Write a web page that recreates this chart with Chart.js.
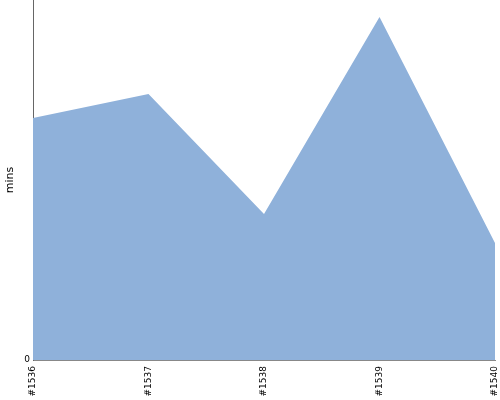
<!DOCTYPE html>
<html>
<head>
<meta charset="utf-8">
<script src="https://cdn.jsdelivr.net/npm/chart.js@4"></script>
<style>
  html, body { margin: 0; padding: 0; background: #fff; }
  canvas { display: block; }
</style>
</head>
<body>
<canvas id="chart" width="500" height="400"></canvas>
<script>
// --- DATA ---
const builds = ['#1536', '#1537', '#1538', '#1539', '#1540'];
const minutes = [24.2, 26.6, 14.6, 34.3, 11.7];
const yTicks = [0];

const ctx = document.getElementById('chart').getContext('2d');
new Chart(ctx, {
    type: 'line',
    data: {
        labels: builds,
        datasets: [{
            data: minutes,
            fill: 'origin',
            backgroundColor: '#8fb1da',
            borderWidth: 0,
            pointRadius: 0,
            tension: 0
        }]
    },
    options: {
        responsive: false,
        animation: false,
        layout: { padding: { top: 0, right: 5, left: 0, bottom: 0 } },
        plugins: { legend: { display: false }, tooltip: { enabled: false } },
        scales: {
            x: {
                offset: false,
                grid: { display: false, drawTicks: false },
                border: { color: '#888', width: 1 },
                ticks: {
                    minRotation: 90, maxRotation: 90, padding: 6,
                    color: '#000', font: { family: 'DejaVu Sans', size: 9 }
                },
                afterFit: scale => {
                    scale.height = 40;
                    scale.paddingLeft = 0;
                    scale.paddingRight = 0;
                }
            },
            y: {
                min: 0, max: 36,
                grid: { display: false, drawTicks: false },
                border: { color: '#666', width: 1 },
                afterBuildTicks: scale => { scale.ticks = yTicks.map(v => ({ value: v })); },
                ticks: { padding: 3, color: '#000', font: { family: 'DejaVu Sans', size: 9 } },
                title: { display: true, text: 'mins', color: '#000', padding: { top: 4, bottom: 0 }, font: { family: 'DejaVu Sans', size: 11 } },
                afterFit: scale => {
                    scale.width = 33;
                    scale.paddingTop = 0;
                    scale.paddingBottom = 0;
                }
            }
        }
    }
});
</script>
</body>
</html>
